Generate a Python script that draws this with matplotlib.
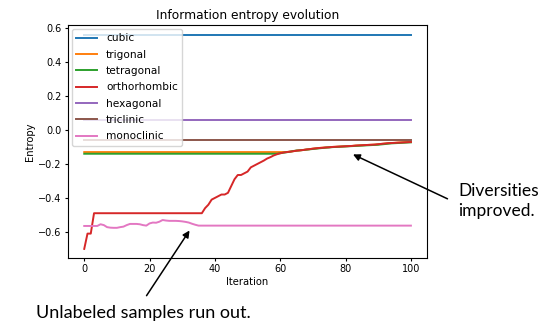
import matplotlib
matplotlib.use("Agg")
import matplotlib.pyplot as plt

iterations = list(range(101))

cubic = [0.556] * 101
hexagonal = [0.059] * 101
triclinic = [-0.057] * 101

orthorhombic = (
    [-0.70, -0.61, -0.61] + [-0.49] * 34 +
    [-0.46, -0.44, -0.41, -0.40, -0.39, -0.38, -0.38, -0.37, -0.33, -0.29,
     -0.265, -0.265, -0.255, -0.245, -0.22, -0.21, -0.20, -0.19, -0.18, -0.168,
     -0.16, -0.15, -0.143, -0.137, -0.133, -0.13, -0.128, -0.125, -0.122, -0.12,
     -0.118, -0.115, -0.113, -0.11, -0.108, -0.106, -0.105, -0.103, -0.102, -0.10,
     -0.099, -0.098, -0.097, -0.096, -0.095, -0.094, -0.092, -0.091, -0.09, -0.089,
     -0.088, -0.087, -0.086, -0.084, -0.082, -0.08, -0.078, -0.077, -0.076, -0.075,
     -0.074, -0.073, -0.072, -0.071]
)

trigonal = (
    [-0.130] * 63 +
    [-0.127, -0.125, -0.122, -0.12, -0.118, -0.115, -0.113, -0.11, -0.108, -0.106,
     -0.104, -0.103, -0.101, -0.10, -0.099, -0.098, -0.097, -0.096, -0.095, -0.094,
     -0.092, -0.091, -0.09, -0.089, -0.088, -0.087, -0.086, -0.084, -0.082, -0.08,
     -0.078, -0.077, -0.076, -0.074, -0.073, -0.072, -0.071, -0.07]
)

tetragonal = (
    [-0.140] * 60 +
    [-0.137, -0.134, -0.131, -0.128, -0.124, -0.121, -0.12, -0.118, -0.116, -0.114,
     -0.112, -0.11, -0.108, -0.106, -0.104, -0.103, -0.101, -0.10, -0.099, -0.098,
     -0.097, -0.096, -0.095, -0.094, -0.093, -0.092, -0.091, -0.09, -0.089, -0.088,
     -0.087, -0.085, -0.083, -0.081, -0.079, -0.078, -0.077, -0.076, -0.075, -0.074,
     -0.073]
)

monoclinic = (
    [-0.565] * 5 +
    [-0.555, -0.56, -0.572, -0.575, -0.576, -0.576, -0.572, -0.569, -0.56, -0.553,
     -0.553, -0.553, -0.555, -0.56, -0.563, -0.55, -0.545, -0.546, -0.54, -0.53,
     -0.533, -0.535, -0.535, -0.535, -0.536, -0.538, -0.541, -0.545, -0.552, -0.558,
     -0.563] +
    [-0.563] * 65
)

series = [
    ("cubic", cubic),
    ("trigonal", trigonal),
    ("tetragonal", tetragonal),
    ("orthorhombic", orthorhombic),
    ("hexagonal", hexagonal),
    ("triclinic", triclinic),
    ("monoclinic", monoclinic),
]

fig = plt.figure(figsize=(5.52, 3.24), dpi=100)
ax = fig.add_axes([0.123, 0.204, 0.651, 0.719])
for name, vals in series:
    ax.plot(iterations, vals, label=name, linewidth=1.4)

ax.set_title("Information entropy evolution", fontsize=8.8, pad=4)
ax.set_xlabel("Iteration", fontsize=7.2, labelpad=2)
ax.set_ylabel("Entropy", fontsize=7.2, labelpad=2)
ax.tick_params(labelsize=7, length=2.5, pad=2)
ax.set_xticks([0, 20, 40, 60, 80, 100])
ax.set_yticks([-0.6, -0.4, -0.2, 0.0, 0.2, 0.4, 0.6])
ax.set_ylim(-0.753, 0.618)
ax.legend(loc="upper left", fontsize=7.6, handlelength=2.0, labelspacing=0.6,
          borderaxespad=0.4)

ax.annotate("", xy=(32.7, -0.578), xytext=(145, 324 - 298), textcoords="figure pixels",
            arrowprops=dict(arrowstyle="-|>", color="black", lw=1.1),
            annotation_clip=False)
ax.annotate("", xy=(81.5, -0.137), xytext=(450, 324 - 200), textcoords="figure pixels",
            arrowprops=dict(arrowstyle="-|>", color="black", lw=1.1),
            annotation_clip=False)

fig.text(458 / 552, 1 - 201 / 324, "Diversities\nimproved.", fontsize=12.5,
         family="Lato", va="center", ha="left", linespacing=1.25)
fig.text(36 / 552, 1 - 313 / 324, "Unlabeled samples run out.", fontsize=13,
         family="Lato", va="center", ha="left")

fig.savefig("out.png", dpi=100)
